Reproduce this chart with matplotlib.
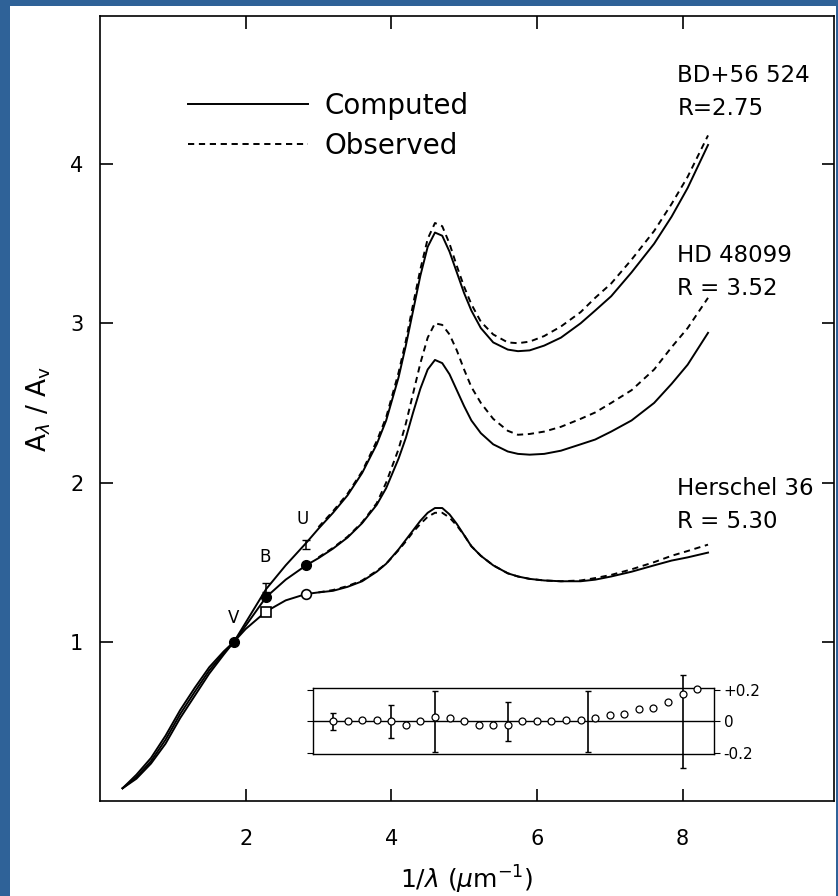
import numpy as np
import matplotlib
matplotlib.use("Agg")
from matplotlib import pyplot as plt
from matplotlib.lines import Line2D
from matplotlib.patches import Rectangle

plt.rcParams['font.family'] = ['DejaVu Sans']

# wavenumber grid of the computed curves (1/lambda, micron^-1)
x_comp = [0.31, 0.5, 0.7, 0.9, 1.1, 1.3, 1.5, 1.7, 1.84, 2.0, 2.28, 2.55, 2.83,
          3.0, 3.2, 3.4, 3.6, 3.8, 3.93, 4.1, 4.2, 4.3, 4.4, 4.5, 4.6, 4.7,
          4.8, 4.9, 5.0, 5.1, 5.23, 5.4, 5.6, 5.74, 5.9, 6.1, 6.33, 6.6, 6.8,
          7.02, 7.3, 7.61, 7.85, 8.07, 8.35]
bd_comp = [0.08, 0.14, 0.235, 0.36, 0.52, 0.66, 0.80, 0.92, 1.0, 1.12, 1.33, 1.48, 1.62,
           1.71, 1.81, 1.92, 2.06, 2.24, 2.39, 2.66, 2.86, 3.08, 3.30, 3.48, 3.57, 3.55,
           3.45, 3.32, 3.19, 3.08, 2.97, 2.88, 2.835, 2.825, 2.83, 2.86, 2.91, 3.0, 3.08,
           3.17, 3.32, 3.50, 3.67, 3.85, 4.12]
hd_comp = [0.08, 0.15, 0.25, 0.385, 0.545, 0.685, 0.82, 0.93, 1.0, 1.10, 1.28, 1.39, 1.48,
           1.525, 1.585, 1.655, 1.745, 1.86, 1.965, 2.15, 2.28, 2.44, 2.59, 2.71, 2.77, 2.75,
           2.68, 2.58, 2.48, 2.39, 2.31, 2.24, 2.195, 2.18, 2.175, 2.18, 2.20, 2.24, 2.27,
           2.32, 2.39, 2.50, 2.62, 2.74, 2.94]
h36_comp = [0.08, 0.165, 0.27, 0.41, 0.57, 0.71, 0.84, 0.94, 1.0, 1.08, 1.19, 1.26, 1.30,
            1.31, 1.32, 1.345, 1.38, 1.44, 1.49, 1.58, 1.64, 1.70, 1.76, 1.81, 1.84, 1.84,
            1.80, 1.74, 1.67, 1.60, 1.54, 1.48, 1.43, 1.41, 1.395, 1.385, 1.38, 1.38, 1.39,
            1.41, 1.44, 1.48, 1.51, 1.53, 1.56]

# observed UV curves
x_obs = [3.0, 3.2, 3.4, 3.6, 3.8, 3.93, 4.1, 4.2, 4.3, 4.4, 4.5, 4.6, 4.7, 4.8, 4.9,
         5.0, 5.1, 5.23, 5.4, 5.6, 5.74, 5.9, 6.1, 6.33, 6.6, 6.8, 7.02, 7.3, 7.61,
         7.85, 8.07, 8.35]
bd_obs = [1.72, 1.82, 1.93, 2.07, 2.26, 2.41, 2.69, 2.89, 3.12, 3.34, 3.53, 3.63, 3.61,
          3.50, 3.36, 3.23, 3.12, 3.01, 2.93, 2.88, 2.875, 2.885, 2.92, 2.98, 3.07, 3.16,
          3.25, 3.40, 3.58, 3.75, 3.92, 4.18]
hd_obs = [1.53, 1.59, 1.66, 1.75, 1.87, 2.0, 2.21, 2.37, 2.56, 2.75, 2.91, 3.0, 2.99,
          2.93, 2.83, 2.71, 2.60, 2.50, 2.40, 2.325, 2.30, 2.305, 2.32, 2.35, 2.40, 2.44,
          2.50, 2.58, 2.71, 2.85, 2.97, 3.16]
h36_obs = [1.31, 1.325, 1.35, 1.385, 1.445, 1.49, 1.575, 1.63, 1.69, 1.74, 1.785, 1.81,
           1.81, 1.78, 1.73, 1.67, 1.60, 1.54, 1.48, 1.43, 1.41, 1.395, 1.385, 1.38, 1.385,
           1.40, 1.42, 1.455, 1.50, 1.54, 1.57, 1.61]

# UBV photometry
x_v = 1.84
y_v = 1.0
x_bu = [2.28, 2.83]
bd_bu = [1.34, 1.61]
hd_bu = [1.28, 1.48]
h36_bu = [1.19, 1.30]

# residuals (observed - computed) in the small panel
x_res = [3.2, 3.4, 3.6, 3.8, 4.0, 4.2, 4.4, 4.6, 4.8, 5.0, 5.2, 5.4, 5.6, 5.8, 6.0,
         6.2, 6.4, 6.6, 6.8, 7.0, 7.2, 7.4, 7.6, 7.8, 8.0, 8.2]
res = [0.0, 0.0, 0.01, 0.01, 0.0, -0.02, 0.0, 0.03, 0.02, 0.0, -0.025, -0.025, -0.02,
       0.0, 0.0, 0.0, 0.01, 0.01, 0.02, 0.04, 0.05, 0.08, 0.085, 0.125, 0.175, 0.205]
x_err = [3.2, 4.0, 4.6, 5.6, 6.7, 8.0]
err = [0.055, 0.105, 0.19, 0.125, 0.19, 0.29]

star_names = ['BD+56 524\nR=2.75', 'HD 48099\nR = 3.52', 'Herschel 36\nR = 5.30']

fig = plt.figure(figsize=(8.38, 8.96), dpi=100, facecolor='#2f6298')
fig.patches.append(Rectangle((10 / 838, 0), 826 / 838, 890 / 896, transform=fig.transFigure,
                             facecolor='white', edgecolor='none', zorder=-10))
ax = fig.add_axes([100 / 838, 1 - 801 / 896, 734 / 838, 785 / 896])
ax.patch.set_alpha(0)

lw = 1.4
dash = (0, (3.2, 2.4))
for yc in [bd_comp, hd_comp, h36_comp]:
    ax.plot(x_comp, yc, color='k', lw=lw)
for yo in [bd_obs, hd_obs, h36_obs]:
    ax.plot(x_obs, yo, color='k', lw=lw, ls=dash)

# photometric points
ax.plot([x_v], [y_v], 'o', color='k', ms=7, zorder=5)
ax.plot(x_bu, hd_bu, 'o', color='k', ms=7, zorder=5)
ax.plot(x_bu[:1], h36_bu[:1], 's', mfc='white', mec='k', mew=1.2, ms=6.5, zorder=5)
ax.plot(x_bu[1:], h36_bu[1:], 'o', mfc='white', mec='k', mew=1.2, ms=7, zorder=5)
ax.errorbar(x_bu, bd_bu, yerr=0.03, fmt='none', ecolor='k', elinewidth=1.1, capsize=3, zorder=5)

ax.text(1.83, 1.15, 'V', fontsize=12, ha='center', va='center')
ax.text(2.26, 1.53, 'B', fontsize=12, ha='center', va='center')
ax.text(2.78, 1.77, 'U', fontsize=12, ha='center', va='center')

for name, ypos in zip(star_names, [4.45, 3.32, 1.86]):
    ax.text(7.93, ypos, name, fontsize=16.5, ha='left', va='center', linespacing=1.55)

handles = [Line2D([], [], color='k', lw=lw), Line2D([], [], color='k', lw=lw, ls=dash)]
ax.legend(handles, ['Computed', 'Observed'], loc='upper left', bbox_to_anchor=(0.12, 0.903),
          frameon=False, fontsize=20, handlelength=4.3, handletextpad=0.6,
          labelspacing=0.43, borderpad=0, borderaxespad=0)

ax.set_xlim(0, 10.08)
ax.set_ylim(0, 4.93)
ax.set_xticks([2, 4, 6, 8])
ax.set_yticks([1, 2, 3, 4])
ax.tick_params(direction='in', length=9, width=1.2, top=True, right=True, labelsize=15)
ax.tick_params(axis='x', pad=20)
ax.tick_params(axis='y', pad=12)
for s in ax.spines.values():
    s.set_linewidth(1.2)
ax.set_xlabel(r'1/$\lambda$ ($\mu$m$^{-1}$)', fontsize=18, labelpad=11)
ax.set_ylabel(r'A$_\lambda$ / A$_\mathrm{v}$', fontsize=19, labelpad=12)

# residual panel
axins = ax.inset_axes([2.92, 0.295, 5.51, 0.414], transform=ax.transData)
axins.set_xlim(2.92, 8.43)
axins.set_ylim(-0.205, 0.21)
axins.axhline(0, color='k', lw=1.0)
axins.errorbar(x_err, np.zeros(len(x_err)), yerr=err, fmt='none', ecolor='k',
               elinewidth=1.2, capsize=2.5, clip_on=False)
axins.plot(x_res, res, 'o', mfc='white', mec='k', mew=0.9, ms=5, clip_on=False, zorder=4)
axins.set_xticks([])
axins.set_yticks([-0.2, 0, 0.2])
axins.set_yticklabels(['-0.2', '0', '+0.2'])
axins.tick_params(axis='y', left=True, right=True, labelleft=False, labelright=True,
                  direction='out', length=4, labelsize=11, pad=3)
for s in axins.spines.values():
    s.set_linewidth(1.0)

fig.savefig('out.png', dpi=100)
